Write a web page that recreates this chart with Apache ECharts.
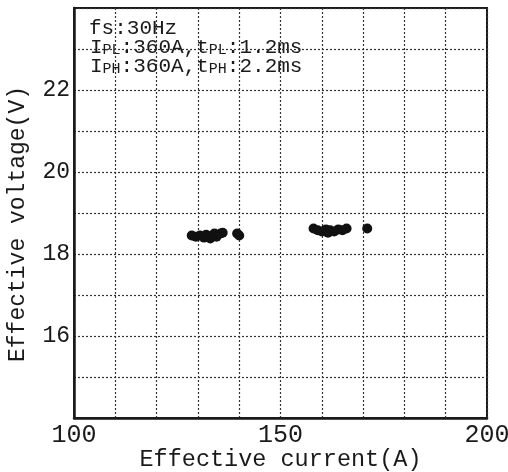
<!DOCTYPE html>
<html>
<head>
<meta charset="utf-8">
<script src="https://cdn.jsdelivr.net/npm/echarts@6/dist/echarts.min.js"></script>
<style>
  html, body { margin: 0; padding: 0; background: #fff; }
  #chart { width: 508px; height: 472px; }
</style>
</head>
<body>
<div id="chart"></div>
<script>
// effective current (A) / effective voltage (V), two operating groups
const lowCurrent = [128.5, 129.5, 130.5, 131.5, 132, 133, 133.5, 134, 134.5, 135.5, 136, 139.5, 140]
const lowVoltage = [18.45, 18.42, 18.45, 18.4, 18.47, 18.38, 18.45, 18.5, 18.42, 18.5, 18.52, 18.5, 18.45]
const highCurrent = [158, 159, 160, 161, 161.5, 162, 163, 164, 165, 166, 171]
const highVoltage = [18.62, 18.58, 18.55, 18.6, 18.52, 18.58, 18.55, 18.6, 18.58, 18.62, 18.62]
const xTickLabels = [100, 150, 200]
const yTickLabels = [16, 18, 20, 22]

const font = 'Liberation Mono'
const ink = '#1a1a1a'

function pairs (xs, ys) {
  return xs.map((x, i) => [x, ys[i]])
}

const chart = echarts.init(document.getElementById('chart'))
chart.setOption({
  animation: false,
  grid: {
    left: 74,
    right: 21,
    top: 8,
    bottom: 54,
    outerBoundsMode: 'none',
    containLabel: false,
    show: true,
    borderColor: ink,
    borderWidth: 2
  },
  xAxis: {
    type: 'value',
    min: 100,
    max: 200,
    interval: 10,
    name: 'Effective current(A)',
    nameLocation: 'middle',
    nameGap: 30,
    nameMoveOverlap: false,
    nameTextStyle: { fontFamily: font, fontSize: 23.5, color: ink },
    axisLine: { lineStyle: { color: ink, width: 2.5 } },
    axisTick: { show: false },
    axisLabel: {
      margin: 5,
      fontFamily: font,
      fontSize: 25,
      color: ink,
      formatter: v => xTickLabels.includes(v) ? String(v) : ''
    },
    splitLine: { lineStyle: { color: '#333', width: 1.2, type: [2, 2] } }
  },
  yAxis: {
    type: 'value',
    min: 14,
    max: 24,
    interval: 1,
    name: 'Effective voltage(V)',
    nameLocation: 'middle',
    nameGap: 45,
    nameMoveOverlap: false,
    nameTextStyle: { fontFamily: font, fontSize: 23, color: ink, padding: [0, 22, 0, 0] },
    axisLine: { show: true, lineStyle: { color: ink, width: 2.5 } },
    axisTick: { show: false },
    axisLabel: {
      margin: 4,
      fontFamily: font,
      fontSize: 23,
      color: ink,
      formatter: v => yTickLabels.includes(v) ? String(v) : ''
    },
    splitLine: { lineStyle: { color: '#333', width: 1.2, type: [2, 2] } }
  },
  graphic: [{
    type: 'group',
    left: 84,
    top: 12,
    z: 100,
    children: [{
      type: 'rect',
      shape: { x: 0, y: 0, width: 222, height: 64 },
      style: { fill: '#fff' }
    }, {
      type: 'text',
      x: 5,
      y: 6,
      style: { text: 'fs:30Hz', font: '21px "Liberation Mono"', fill: ink }
    }, {
      type: 'text',
      x: 6,
      y: 25,
      style: {
        text: 'I{s|PL}:360A,t{s|PL}:1.2ms',
        font: '21px "Liberation Mono"',
        fill: ink,
        rich: { s: { fontFamily: font, fontSize: 15, verticalAlign: 'bottom', padding: [6, 0, 0, 0] } }
      }
    }, {
      type: 'text',
      x: 6,
      y: 44,
      style: {
        text: 'I{s|PH}:360A,t{s|PH}:2.2ms',
        font: '21px "Liberation Mono"',
        fill: ink,
        rich: { s: { fontFamily: font, fontSize: 15, verticalAlign: 'bottom', padding: [6, 0, 0, 0] } }
      }
    }]
  }],
  series: [{
    type: 'scatter',
    data: pairs(lowCurrent, lowVoltage),
    symbolSize: 10,
    itemStyle: { color: '#111', opacity: 1 }
  }, {
    type: 'scatter',
    data: pairs(highCurrent, highVoltage),
    symbolSize: 10,
    itemStyle: { color: '#111', opacity: 1 }
  }]
})
</script>
</body>
</html>
